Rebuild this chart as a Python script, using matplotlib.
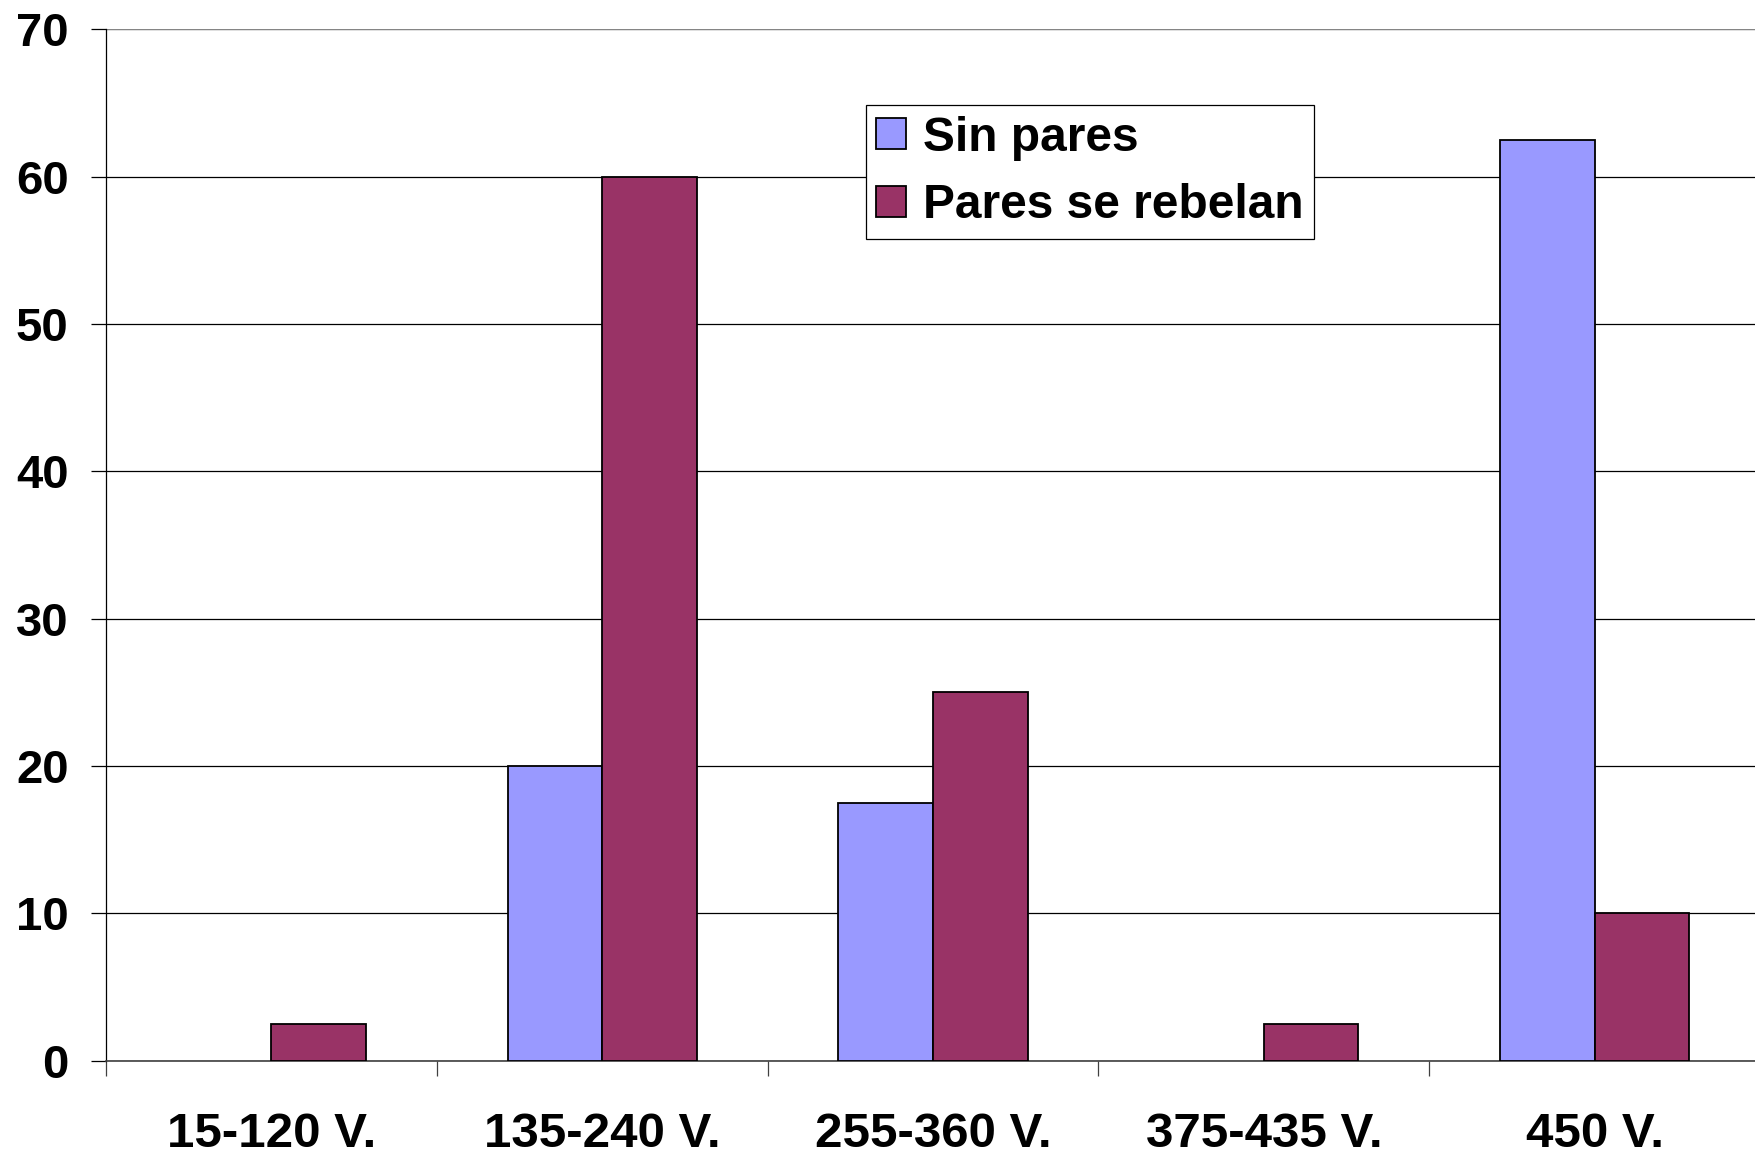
import numpy as np
from matplotlib import pyplot as plt

categories = ['15-120 V.', '135-240 V.', '255-360 V.', '375-435 V.', '450 V.']
sin_pares = [0, 20, 17.5, 0, 62.5]
pares_se_rebelan = [2.5, 60, 25, 2.5, 10]
y_ticks = [0, 10, 20, 30, 40, 50, 60, 70]

plt.rcParams['font.family'] = ['Liberation Sans', 'DejaVu Sans']
plt.rcParams['font.weight'] = 'bold'

fig = plt.figure(figsize=(17.55, 11.55), dpi=100)
ax = fig.add_axes([0.0604, 0.0817, 0.9425, 0.8928])

x = np.arange(len(categories))
w = 0.286
# empty categories get no bar at all (no outline on the baseline)
sp = np.array(sin_pares, dtype=float)
pr = np.array(pares_se_rebelan, dtype=float)
sp[sp == 0] = np.nan
pr[pr == 0] = np.nan
ax.bar(x - w / 2, sp, width=w, color='#9999FF', edgecolor='black',
       linewidth=1.3, label='Sin pares', zorder=3)
ax.bar(x + w / 2, pr, width=w, color='#993366', edgecolor='black',
       linewidth=1.3, label='Pares se rebelan', zorder=3)

ax.set_xlim(-0.5, len(categories) - 0.5)
ax.set_ylim(0, 70)
ax.set_yticks(y_ticks)
ax.set_yticklabels([str(t) for t in y_ticks], fontsize=34, fontweight='bold')
ax.yaxis.grid(True, color='black', linewidth=0.9, zorder=0)
ax.set_axisbelow(True)

# x ticks sit on category boundaries, labels centred under categories
ax.set_xticks(np.arange(len(categories) + 1) - 0.5)
ax.set_xticklabels([])
ax.set_xticks(x, minor=True)
ax.set_xticklabels(categories, minor=True, fontsize=35.5, fontweight='bold')
ax.tick_params(axis='x', which='major', length=11, width=0.9, color='#404040')
ax.tick_params(axis='x', which='minor', length=0, pad=37)
ax.tick_params(axis='y', length=11, width=0.9, pad=16)

for s in ['top', 'right']:
    ax.spines[s].set_visible(False)
ax.spines['left'].set_linewidth(0.9)
ax.spines['bottom'].set_linewidth(1.2)
ax.spines['bottom'].set_color('#404040')
ax.axhline(70, color='#a0a0a0', linewidth=1.2, zorder=1)

leg = ax.legend(loc='upper left', bbox_to_anchor=(0.4934, 0.909),
                bbox_transform=fig.transFigure, borderaxespad=0,
                fancybox=False, edgecolor='black', framealpha=1,
                prop={'size': 34.5, 'weight': 'bold'},
                handlelength=0.62, handleheight=0.62, handletextpad=0.35,
                labelspacing=0.47, borderpad=0.22)
leg.get_frame().set_linewidth(0.9)

plt.savefig('out.png', dpi=100)
